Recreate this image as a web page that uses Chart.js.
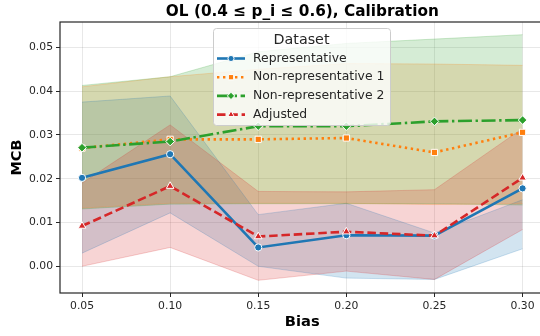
<!DOCTYPE html>
<html>
<head>
<meta charset="utf-8">
<script src="https://cdn.jsdelivr.net/npm/chart.js@4.4.1/dist/chart.umd.min.js"></script>
<style>
  html, body { margin: 0; padding: 0; background: #fff; overflow: hidden; }
  #wrap { width: 540px; height: 336px; overflow: hidden; }
</style>
</head>
<body>
<div id="wrap"><canvas id="chart" width="550" height="336"></canvas></div>
<script>
// --- Data ---
const biasValues = [0.05, 0.10, 0.15, 0.20, 0.25, 0.30];
const xTicks = [0.05, 0.10, 0.15, 0.20, 0.25, 0.30];
const yTicks = [0.00, 0.01, 0.02, 0.03, 0.04, 0.05];

const seriesNames = ['Representative', 'Non-representative 1', 'Non-representative 2', 'Adjusted'];

const repMean = [0.0202, 0.0256, 0.0043, 0.0071, 0.0070, 0.0178];
const repLow  = [0.0030, 0.0122, 0.0000, -0.0027, -0.0030, 0.0040];
const repHigh = [0.0375, 0.0389, 0.0118, 0.0144, 0.0076, 0.0152];

const nr1Mean = [0.0270, 0.0290, 0.0290, 0.0293, 0.0260, 0.0306];
const nr1Low  = [0.0133, 0.0144, 0.0144, 0.0144, 0.0141, 0.0143];
const nr1High = [0.0410, 0.0433, 0.0450, 0.0463, 0.0462, 0.0459];

const nr2Mean = [0.0271, 0.0285, 0.0320, 0.0320, 0.0331, 0.0334];
const nr2Low  = [0.0131, 0.0142, 0.0143, 0.0143, 0.0143, 0.0140];
const nr2High = [0.0413, 0.0433, 0.0490, 0.0509, 0.0519, 0.0529];

const adjMean = [0.0092, 0.0183, 0.0068, 0.0079, 0.0070, 0.0202];
const adjLow  = [0.0000, 0.0043, -0.0032, -0.0011, -0.0030, 0.0084];
const adjHigh = [0.0190, 0.0323, 0.0171, 0.0170, 0.0175, 0.0315];

// --- Style config ---
const colors = {
    blue: [31, 119, 180],
    orange: [255, 127, 14],
    green: [44, 160, 44],
    red: [214, 39, 40]
};
const rgba = (c, a) => `rgba(${c[0]},${c[1]},${c[2]},${a})`;
const FONT = "'DejaVu Sans', sans-serif";

const seriesStyles = [
    { color: colors.blue, dash: [], point: 'circle', radius: 3.6 },
    { color: colors.orange, dash: [2.4, 3.6], point: 'rect', radius: 4.4 },
    { color: colors.green, dash: [14, 3.6, 2.4, 3.6], point: 'rectRot', radius: 4.3 },
    { color: colors.red, dash: [8.5, 3.8], point: 'triangle', radius: 4.4 }
];

const means = [repMean, nr1Mean, nr2Mean, adjMean];
const lows = [repLow, nr1Low, nr2Low, adjLow];
const highs = [repHigh, nr1High, nr2High, adjHigh];

const toPoints = arr => arr.map((v, i) => ({ x: biasValues[i], y: v }));

// --- Datasets ---
// line order: the Adjusted line sits on top, like the seaborn draw order
const lineOrder = [3, 2, 1, 0];
const datasets = [];

seriesNames.forEach((name, i) => {
    const s = seriesStyles[i];
    datasets.push({
        label: name,
        data: toPoints(means[i]),
        borderColor: rgba(s.color, 1),
        backgroundColor: rgba(s.color, 1),
        borderWidth: 2.6,
        borderDash: s.dash,
        borderCapStyle: 'butt',
        pointStyle: s.point,
        pointRadius: s.radius,
        pointBackgroundColor: rgba(s.color, 1),
        pointBorderColor: '#ffffff',
        pointBorderWidth: 1,
        fill: false,
        tension: 0,
        order: lineOrder[i]
    });
});

// confidence bands: upper line filled down to the lower line
seriesNames.forEach((name, i) => {
    const s = seriesStyles[i];
    const upperIndex = datasets.length;
    datasets.push({
        label: name + ' upper',
        data: toPoints(highs[i]),
        borderColor: rgba(s.color, 0.22),
        borderWidth: 1,
        backgroundColor: rgba(s.color, 0.2),
        pointRadius: 0,
        fill: upperIndex + 1,
        tension: 0,
        order: 20 - i
    });
    datasets.push({
        label: name + ' lower',
        data: toPoints(lows[i]),
        borderColor: rgba(s.color, 0.22),
        borderWidth: 1,
        pointRadius: 0,
        fill: false,
        tension: 0,
        order: 20 - i
    });
});

// --- Plugins ---
const framePlugin = {
    id: 'frame',
    afterDatasetsDraw(chart) {
        const { ctx, chartArea: a } = chart;
        ctx.save();
        ctx.strokeStyle = '#262626';
        ctx.lineWidth = 1.2;
        ctx.strokeRect(a.left, a.top, a.right - a.left, a.bottom - a.top);
        ctx.restore();
    }
};

const titlePlugin = {
    id: 'plotTitle',
    afterDraw(chart) {
        const { ctx, chartArea: a } = chart;
        ctx.save();
        ctx.fillStyle = '#000';
        ctx.font = `bold 15.3px ${FONT}`;
        ctx.textAlign = 'center';
        ctx.textBaseline = 'middle';
        ctx.fillText('OL (0.4 \u2264 p_i \u2264 0.6), Calibration', (a.left + a.right) / 2, 12);
        ctx.restore();
    }
};

function drawMarker(ctx, style, x, y) {
    Chart.helpers.drawPoint(ctx, {
        pointStyle: style.point,
        radius: style.radius,
        borderWidth: 1,
        rotation: 0
    }, x, y);
}

const legendPlugin = {
    id: 'boxLegend',
    afterDraw(chart) {
        const ctx = chart.ctx;
        const box = { x: 213, y: 28, w: 177, h: 97 };
        ctx.save();
        // background box
        ctx.beginPath();
        ctx.roundRect(box.x + 0.5, box.y + 0.5, box.w, box.h, 3);
        ctx.fillStyle = 'rgba(255,255,255,0.8)';
        ctx.fill();
        ctx.strokeStyle = '#cccccc';
        ctx.lineWidth = 1;
        ctx.stroke();

        // title
        ctx.fillStyle = '#262626';
        ctx.font = `14.3px ${FONT}`;
        ctx.textAlign = 'center';
        ctx.textBaseline = 'middle';
        ctx.fillText('Dataset', box.x + box.w / 2, 40);

        // entries
        ctx.textAlign = 'left';
        ctx.font = `12.4px ${FONT}`;
        seriesNames.forEach((name, i) => {
            const s = seriesStyles[i];
            const y = 58.5 + i * 18.7;
            ctx.strokeStyle = rgba(s.color, 1);
            ctx.lineWidth = 2.6;
            ctx.lineCap = 'butt';
            ctx.setLineDash(s.dash);
            ctx.beginPath();
            ctx.moveTo(217, y);
            ctx.lineTo(245, y);
            ctx.stroke();
            ctx.setLineDash([]);
            ctx.fillStyle = rgba(s.color, 1);
            ctx.strokeStyle = '#ffffff';
            ctx.lineWidth = 1;
            drawMarker(ctx, { point: s.point, radius: s.radius * 0.85 }, 231, y);
            ctx.fillStyle = '#262626';
            ctx.fillText(name, 253, y);
        });
        ctx.restore();
    }
};

// --- Chart ---
const ctx = document.getElementById('chart');

// the canvas is wider than the page: the axes run a little past the
// right edge of the picture, as in the original figure
new Chart(ctx, {
    type: 'line',
    data: { datasets },
    options: {
        responsive: false,
        animation: false,
        devicePixelRatio: 1,
        layout: { padding: { top: 22, right: 0, left: 0, bottom: 0 } },
        plugins: {
            legend: { display: false },
            tooltip: { enabled: false },
            filler: { drawTime: 'beforeDatasetsDraw', propagate: false }
        },
        scales: {
            x: {
                type: 'linear',
                min: 0.0375,
                max: 0.3125,
                afterBuildTicks: scale => { scale.ticks = xTicks.map(v => ({ value: v })); },
                afterFit: scale => {
                    scale.height = 43;
                    scale.paddingLeft = 0;
                    scale.paddingRight = 0;
                },
                ticks: {
                    color: '#262626',
                    font: { family: FONT, size: 10.8 },
                    padding: 3,
                    maxRotation: 0,
                    callback: v => v.toFixed(2)
                },
                grid: { color: 'rgba(0,0,0,0.09)', tickColor: '#262626', tickLength: 4, lineWidth: 1 },
                border: { display: false },
                title: {
                    display: true,
                    text: 'Bias',
                    color: '#000',
                    font: { family: FONT, size: 14.7, weight: 'bold' },
                    padding: { top: 5, bottom: 5 }
                }
            },
            y: {
                min: -0.0061,
                max: 0.0558,
                afterBuildTicks: scale => { scale.ticks = yTicks.map(v => ({ value: v })); },
                afterFit: scale => {
                    scale.width = 60;
                    scale.paddingTop = 0;
                    scale.paddingBottom = 0;
                },
                ticks: {
                    color: '#262626',
                    font: { family: FONT, size: 10.8 },
                    padding: 3,
                    callback: v => v.toFixed(2)
                },
                grid: { color: 'rgba(0,0,0,0.09)', tickColor: '#262626', tickLength: 4, lineWidth: 1 },
                border: { display: false },
                title: {
                    display: true,
                    text: 'MCB',
                    color: '#000',
                    font: { family: FONT, size: 14.5, weight: 'bold' },
                    padding: { top: 9, bottom: 9 }
                }
            }
        }
    },
    plugins: [framePlugin, titlePlugin, legendPlugin]
});
</script>
</body>
</html>
